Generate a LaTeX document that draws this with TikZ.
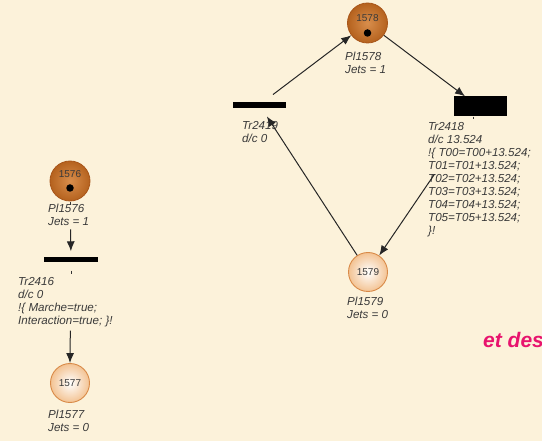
\documentclass[tikz,border=0pt]{standalone}
\usepackage{fontspec}
\setmainfont{Liberation Sans}
\usetikzlibrary{arrows.meta,calc}
\definecolor{bg}{HTML}{FCF2DA}
\definecolor{txt}{HTML}{3A3A3A}
\definecolor{mkout}{HTML}{B5621E}
\definecolor{mkin}{HTML}{D88E4C}
\definecolor{mkdraw}{HTML}{A8561A}
\definecolor{emout}{HTML}{F3C393}
\definecolor{emdraw}{HTML}{D98A48}
\definecolor{pinktxt}{HTML}{E8146E}
\begin{document}
\begin{tikzpicture}[x=1pt,y=-1pt,
  markedplace/.style={circle,minimum size=40pt,inner sep=0pt,draw=mkdraw,line width=0.8pt,inner color=mkin,outer color=mkout},
  emptyplace/.style={circle,minimum size=39pt,inner sep=0pt,draw=emdraw,line width=0.9pt,inner color=white,outer color=emout},
  num/.style={font=\fontsize{10}{11}\selectfont,text=txt,inner sep=0pt},
  token/.style={circle,fill=black,minimum size=7.5pt,inner sep=0pt},
  bar/.style={rectangle,fill=black,inner sep=0pt},
  lbl/.style={anchor=north west,align=left,inner sep=0pt,text=txt,font=\fontsize{11.6}{13}\selectfont\itshape},
  arc/.style={draw=black!85,line width=1pt,-{Latex[length=10pt,width=8pt]}},
  tick/.style={draw=black!80,line width=0.6pt}]
\useasboundingbox[fill=bg] (0,0) rectangle (542,441);
\clip (0,0) rectangle (542,441);

% left net
\node[markedplace] (p1576) at (70,181) {};
\node[num] (n1576) at (70,174) {1576};
\node[token] (k1576) at (70,188) {};
\node[lbl] (l1576) at (48,204) {Pl1576\\Jets = 1};
\node[bar,minimum width=54pt,minimum height=5pt] (t2416) at (71,260) {};
\node[lbl] (l2416) at (18,277) {Tr2416\\d/c 0\\!\{ Marche=true;\\Interaction=true; \}!};
\node[emptyplace] (p1577) at (70,383) {};
\node[num] (n1577) at (70,383) {1577};
\node[lbl] (l1577) at (48,410) {Pl1577\\Jets = 0};

\draw[tick] ($(p1576.south)+(0,1)$) -- ($(p1576.south)+(0,4)$);
\draw[tick] ($(t2416.south)+(0,8)$) -- ($(t2416.south)+(0,11)$);
\draw[arc,shorten <=28pt,shorten >=6pt] (p1576.south) -- (t2416.north);
\draw[arc,shorten <=68pt,shorten >=0pt] (t2416.south) -- (p1577.north);

% right net
\node[markedplace] (p1578) at (367.5,23) {};
\node[num] (n1578) at (367.5,18) {1578};
\node[token] (k1578) at (367.5,33) {};
\node[lbl] (l1578) at (345,52) {Pl1578\\Jets = 1};

\node[bar,minimum width=53pt,minimum height=5.5pt] (t2419) at (259.5,105) {};
\node[lbl] (l2419) at (242,121) {Tr2419\\d/c 0};

\node[bar,minimum width=53pt,minimum height=20pt] (t2418) at (480.5,106.5) {};
\node[lbl] (l2418) at (428,122) {Tr2418\\d/c 13.524\\!\{ T00=T00+13.524;\\T01=T01+13.524;\\T02=T02+13.524;\\T03=T03+13.524;\\T04=T04+13.524;\\T05=T05+13.524;\\\}!};
\draw[tick] ($(t2418.south)+(-7,0)$) -- ($(t2418.south)+(-7,2.5)$);

\node[emptyplace] (p1579) at (368,272) {};
\node[num] (n1579) at (368,272) {1579};
\node[lbl] (l1579) at (347,297) {Pl1579\\Jets = 0};

\coordinate (s2419) at ($(t2419.north)+(13.5,-7.5)$);
\coordinate (e2418) at ($(t2418.north)+(-15.5,0)$);
\draw[arc] (s2419) -- (p1578);
\draw[arc] (p1578) -- (e2418);
\draw[arc,shorten <=82pt] (t2418.center) -- (p1579);
\draw[arc,shorten >=10pt] (p1579) -- (t2419);

\node[anchor=base west,inner sep=0pt,text=pinktxt,font=\fontsize{21}{24}\selectfont\bfseries\itshape] (etdes) at (483,348) {et des};
\end{tikzpicture}
\end{document}
